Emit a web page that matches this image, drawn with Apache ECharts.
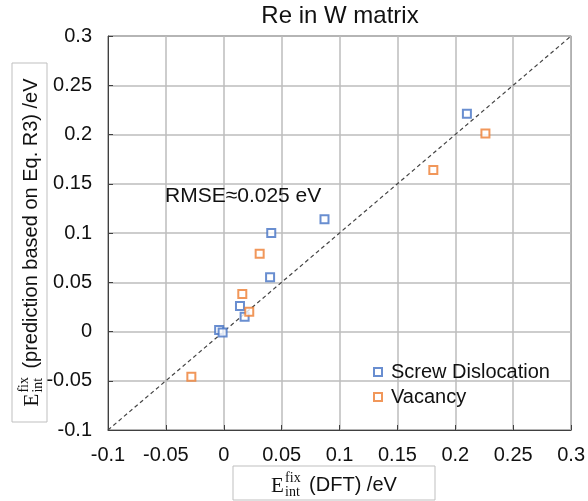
<!DOCTYPE html>
<html><head><meta charset="utf-8">
<script src="https://cdn.jsdelivr.net/npm/echarts@6/dist/echarts.min.js"></script>
<style>html,body{margin:0;padding:0;background:#fff}#c{width:588px;height:501px}</style>
</head><body><div id="c"></div>
<script>
const xTicks = [-0.1, -0.05, 0, 0.05, 0.1, 0.15, 0.2, 0.25, 0.3];
const yTicks = [-0.1, -0.05, 0, 0.05, 0.1, 0.15, 0.2, 0.25, 0.3];
const screwX = [0.210, 0.087, 0.041, 0.040, 0.014, 0.018, -0.004, -0.001];
const screwY = [0.221, 0.114, 0.100, 0.055, 0.026, 0.015, 0.0015, -0.001];
const vacX = [0.226, 0.181, 0.031, 0.016, 0.022, -0.028];
const vacY = [0.201, 0.164, 0.079, 0.038, 0.020, -0.046];
const diagX = [-0.1, 0.3];
const diagY = [-0.1, 0.3];
const seriesNames = ['Screw Dislocation', 'Vacancy'];
const chartTitle = 'Re in W matrix';
const rmseText = 'RMSE\u22480.025 eV';

const BLUE = '#4472C4', ORANGE = '#ED7D31';
const SANS = '"Liberation Sans", Arial, sans-serif';
const SERIF = '"Liberation Serif", "DejaVu Serif", serif';

const ctx = document.createElement('canvas').getContext('2d');
function measure(t, font) { ctx.font = font; return ctx.measureText(t).width; }

function axisTitle(cx, cy, rot, main, bw, bh) {
  const mainW = measure(main, '20px ' + SANS);
  const total = 38 + mainW;
  const x0 = -total / 2;
  return {
    type: 'group', x: cx, y: cy, rotation: rot,
    children: [
      { type: 'rect', shape: { x: -bw / 2, y: -bh / 2, width: bw, height: bh },
        style: { fill: '#fff', stroke: '#bfbfbf', lineWidth: 1 } },
      { type: 'text', x: x0, y: 3, style: { text: 'E', font: '21px ' + SERIF, fill: '#111', align: 'left', verticalAlign: 'middle' } },
      { type: 'text', x: x0 + 14, y: -5, style: { text: 'fix', font: '14px ' + SERIF, fill: '#111', align: 'left', verticalAlign: 'middle' } },
      { type: 'text', x: x0 + 14, y: 9, style: { text: 'int', font: '14px ' + SERIF, fill: '#111', align: 'left', verticalAlign: 'middle' } },
      { type: 'text', x: x0 + 38, y: 2, style: { text: main, font: '20px ' + SANS, fill: '#111', align: 'left', verticalAlign: 'middle' } }
    ]
  };
}

const fmt = v => String(+(+v).toFixed(2));
const chart = echarts.init(document.getElementById('c'), null, { renderer: 'canvas' });
chart.setOption({
  animation: false,
  backgroundColor: '#fff',
  grid: { left: 108, right: 16, top: 36, bottom: 71, show: true, borderColor: '#404040', borderWidth: 1, backgroundColor: 'transparent' },
  xAxis: {
    type: 'value', min: xTicks[0], max: xTicks[xTicks.length - 1], interval: 0.05,
    axisLine: { show: true, onZero: false, lineStyle: { color: '#404040', width: 1 } },
    axisTick: { show: true, inside: true, length: 5, lineStyle: { color: '#404040' } },
    axisLabel: { formatter: fmt, fontSize: 20, fontFamily: SANS, color: '#111', margin: 15 },
    splitLine: { show: true, lineStyle: { color: '#bdbdbd', width: 1.5 } }
  },
  yAxis: {
    type: 'value', min: yTicks[0], max: yTicks[yTicks.length - 1], interval: 0.05,
    axisLine: { show: true, onZero: false, lineStyle: { color: '#404040', width: 1 } },
    axisTick: { show: true, inside: true, length: 5, lineStyle: { color: '#404040' } },
    axisLabel: { formatter: fmt, fontSize: 20, fontFamily: SANS, color: '#111', margin: 16 },
    splitLine: { show: true, lineStyle: { color: '#bdbdbd', width: 1.5 } }
  },
  legend: {
    orient: 'vertical', left: 373, top: 360, itemGap: 1, padding: 0,
    itemWidth: 8, itemHeight: 8, icon: 'rect',
    textStyle: { fontSize: 20, fontFamily: SANS, color: '#111', lineHeight: 24, padding: [0, 0, 0, 4] },
    data: [
      { name: seriesNames[0], itemStyle: { color: '#fff', borderColor: BLUE, borderWidth: 2 } },
      { name: seriesNames[1], itemStyle: { color: '#fff', borderColor: ORANGE, borderWidth: 2 } }
    ]
  },
  series: [
    { type: 'line', name: 'diag', data: diagX.map((x, i) => [x, diagY[i]]), symbol: 'none', silent: true,
      lineStyle: { color: '#444', width: 1.2, type: [4, 3] }, z: 1 },
    { type: 'scatter', name: seriesNames[0], data: screwX.map((x, i) => [x, screwY[i]]), symbol: 'rect', symbolSize: 8,
      itemStyle: { color: '#fff', borderColor: BLUE, borderWidth: 2 }, z: 3 },
    { type: 'scatter', name: seriesNames[1], data: vacX.map((x, i) => [x, vacY[i]]), symbol: 'rect', symbolSize: 8,
      itemStyle: { color: '#fff', borderColor: ORANGE, borderWidth: 2 }, z: 3 }
  ],
  graphic: [
    { type: 'text', x: 340, y: 16, style: { text: chartTitle, font: '24px ' + SANS, fill: '#111', align: 'center', verticalAlign: 'middle' } },
    { type: 'text', x: 165, y: 196, z: 10, style: { text: rmseText, font: '21px ' + SANS, fill: '#111', align: 'left', verticalAlign: 'middle' } },
    axisTitle(334, 483, 0, '(DFT) /eV', 202, 34),
    axisTitle(29.5, 242.5, Math.PI / 2, '(prediction based on Eq. R3) /eV', 359, 35)
  ]
});
</script></body></html>
